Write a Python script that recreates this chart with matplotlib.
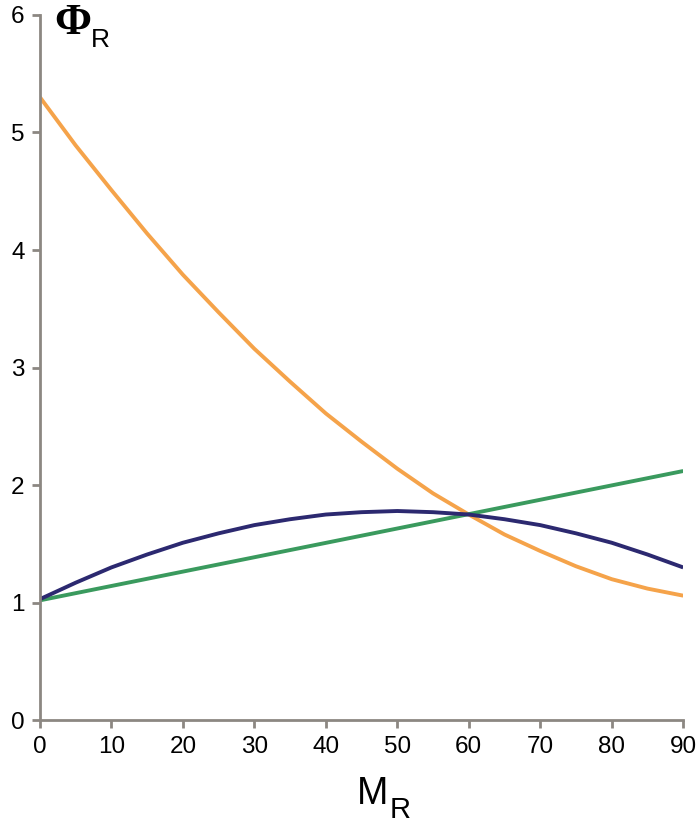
import matplotlib
matplotlib.use("Agg")
import matplotlib.pyplot as plt

# values
m_r = [0, 5, 10, 15, 20, 25, 30, 35, 40, 45, 50, 55, 60, 65, 70, 75, 80, 85, 90]
phi_orange = [5.30, 4.89, 4.51, 4.14, 3.79, 3.47, 3.16, 2.88, 2.61, 2.37,
              2.14, 1.93, 1.75, 1.58, 1.44, 1.31, 1.20, 1.12, 1.06]
phi_blue = [1.03, 1.17, 1.30, 1.41, 1.51, 1.59, 1.66, 1.71, 1.75, 1.77,
            1.78, 1.77, 1.75, 1.71, 1.66, 1.59, 1.51, 1.41, 1.30]
m_green = [0, 90]
phi_green = [1.02, 2.12]

xticks = [0, 10, 20, 30, 40, 50, 60, 70, 80, 90]
yticks = [0, 1, 2, 3, 4, 5, 6]

plt.rcParams['font.family'] = ['Liberation Sans', 'DejaVu Sans']

fig = plt.figure(figsize=(7, 8.26), dpi=100)
ax = fig.add_axes([0.057, 0.128, 0.919, 0.854])

style = dict(lw=2.8, solid_capstyle='butt', solid_joinstyle='round')
ax.plot(m_r, phi_orange, color='#f5a34a', **style)
ax.plot(m_green, phi_green, color='#3a9a5e', **style)
ax.plot(m_r, phi_blue, color='#2c2970', **style)

ax.set_xlim(0, 90)
ax.set_ylim(0, 6)
ax.set_xticks(xticks)
ax.set_yticks(yticks)

grey = '#8c8782'
for s in ['top', 'right']:
    ax.spines[s].set_visible(False)
for s in ['left', 'bottom']:
    ax.spines[s].set_color(grey)
    ax.spines[s].set_linewidth(2.0)
ax.tick_params(direction='out', length=6, width=2.0, color=grey,
               labelsize=17.5, pad=5)

fig.text(0.077, 0.972, 'Φ', fontsize=32, family='Liberation Serif',
         weight='bold', va='center', ha='left')
fig.text(0.130, 0.943, 'R', fontsize=19, ha='left', va='baseline')

fig.text(0.510, 0.027, 'M', fontsize=27, ha='left', va='baseline')
fig.text(0.556, 0.010, 'R', fontsize=21, ha='left', va='baseline')

fig.savefig('out.png', dpi=100)
